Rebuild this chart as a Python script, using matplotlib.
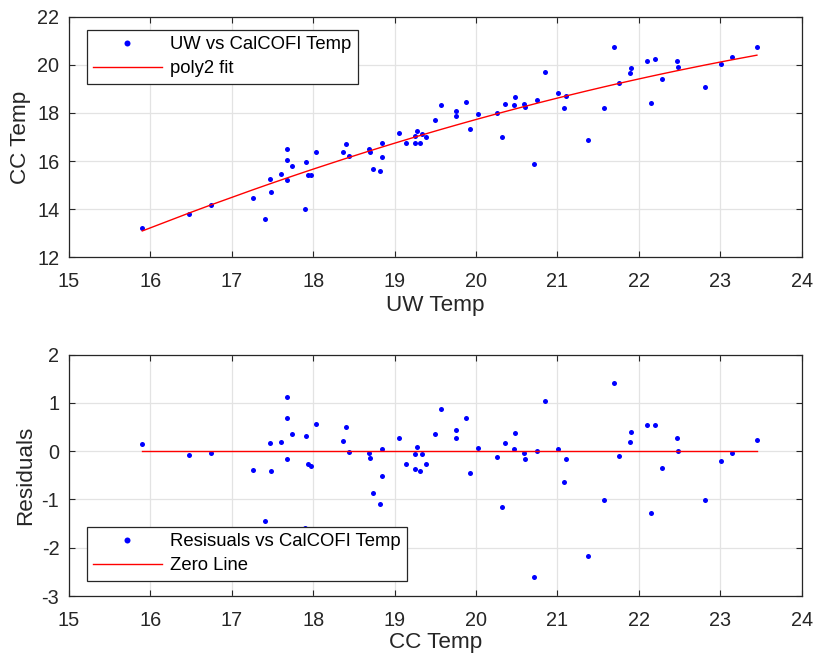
import numpy as np
import matplotlib
matplotlib.use("Agg")
import matplotlib.pyplot as plt

uw_temp = [15.90, 16.48, 16.75, 17.26, 17.41, 17.47, 17.48, 17.61, 17.68, 17.68,
           17.68, 17.74, 17.90, 17.91, 17.94, 17.97, 18.03, 18.37, 18.40, 18.44,
           18.69, 18.70, 18.73, 18.82, 18.84, 18.85, 19.05, 19.14, 19.25, 19.25,
           19.28, 19.31, 19.34, 19.38, 19.50, 19.57, 19.75, 19.75, 19.88, 19.93,
           20.02, 20.26, 20.32, 20.35, 20.48, 20.47, 20.59, 20.60, 20.71, 20.75,
           20.85, 21.01, 21.11, 21.08, 21.37, 21.57, 21.69, 21.76, 21.89, 21.90,
           22.10, 22.15, 22.20, 22.28, 22.47, 22.48, 22.81, 23.01, 23.14, 23.45]

cc_temp = [13.22, 13.79, 14.17, 14.46, 13.58, 15.27, 14.70, 15.47, 16.51, 16.05,
           15.20, 15.78, 14.02, 15.97, 15.40, 15.40, 16.36, 16.37, 16.70, 16.22,
           16.51, 16.38, 15.68, 15.57, 16.15, 16.74, 17.17, 16.73, 17.05, 16.74,
           17.24, 16.74, 17.14, 16.99, 17.72, 18.32, 18.07, 17.89, 18.44, 17.34,
           17.96, 17.98, 16.99, 18.37, 18.68, 18.34, 18.37, 18.23, 15.89, 18.56,
           19.70, 18.83, 18.69, 18.19, 16.88, 18.21, 20.75, 19.27, 19.68, 19.88,
           20.17, 18.40, 20.26, 19.41, 20.18, 19.90, 19.10, 20.04, 20.32, 20.76]

residuals = [0.14, -0.07, -0.03, -0.38, -1.44, 0.16, -0.42, 0.19, 1.12, 0.69,
             -0.17, 0.35, -1.59, 0.32, -0.27, -0.30, 0.57, 0.21, 0.50, -0.02,
             -0.03, -0.15, -0.87, -1.09, -0.52, 0.05, 0.27, -0.26, -0.06, -0.37,
             0.08, -0.42, -0.06, -0.26, 0.35, 0.87, 0.44, 0.27, 0.69, -0.45,
             0.06, -0.12, -1.16, 0.18, 0.37, 0.05, -0.03, -0.17, -2.61, 0.01,
             1.05, 0.05, -0.17, -0.63, -2.18, -1.02, 1.41, -0.10, 0.20, 0.39,
             0.54, -1.27, 0.55, -0.35, 0.28, 0.01, -1.02, -0.21, -0.03, 0.23]

x = np.array(uw_temp)
y = np.array(cc_temp)
r = np.array(residuals)
coef = np.polyfit(x, y, 2)
xs = np.sort(x)
fit = np.polyval(coef, xs)

plt.rcParams['font.family'] = ['Liberation Sans', 'DejaVu Sans']
plt.rcParams['axes.unicode_minus'] = False
DARK = '#262626'
GRID = '#e3e3e3'
BLUE = '#0000ff'
RED = '#ff0000'
TICK_FS = 14.3
LABEL_FS = 16.2
LEG_FS = 13.3

fig = plt.figure(figsize=(8.16, 6.56), dpi=100)
W, H = 816, 656

def make_ax(left, top, right, bottom):
    return fig.add_axes([left / W, 1 - bottom / H, (right - left) / W, (bottom - top) / H])

ax1 = make_ax(69, 17, 801.7, 257)
ax2 = make_ax(69, 354.7, 801.7, 596)

def style(ax):
    ax.set_xlim(15, 24)
    ax.set_xticks(range(15, 25))
    ax.grid(True, color=GRID, linewidth=0.9)
    ax.set_axisbelow(True)
    for s in ax.spines.values():
        s.set_color(DARK)
        s.set_linewidth(0.9)
    ax.tick_params(direction='in', top=True, right=True, length=4, width=0.8,
                   colors=DARK, labelsize=TICK_FS)
    ax.tick_params(axis='x', pad=10.5)
    ax.tick_params(axis='y', pad=7)

def legend(ax, **kw):
    leg = ax.legend(fontsize=LEG_FS, frameon=True, fancybox=False, framealpha=1,
                    edgecolor=DARK, handlelength=3.7, handletextpad=0.45,
                    borderpad=0.35, labelspacing=0.38, borderaxespad=0,
                    markerscale=1.2, **kw)
    leg.get_frame().set_linewidth(0.9)
    return leg

style(ax1)
ax1.set_ylim(12, 22)
ax1.set_yticks(range(12, 23, 2))
ax1.plot(x, y, linestyle='none', marker='o', markersize=3.6, color=BLUE,
         markeredgewidth=0, label='UW vs CalCOFI Temp')
ax1.plot(xs, fit, color=RED, linewidth=1.0, label='poly2 fit')
ax1.set_xlabel('UW Temp', fontsize=LABEL_FS, color=DARK, labelpad=3)
ax1.set_ylabel('CC Temp', fontsize=LABEL_FS, color=DARK, labelpad=4)
legend(ax1, loc='upper left', bbox_to_anchor=(17.7 / 732.7, 1 - 13 / 240))

style(ax2)
ax2.set_ylim(-3, 2)
ax2.set_yticks(range(-3, 3))
ax2.plot(x, r, linestyle='none', marker='o', markersize=3.6, color=BLUE,
         markeredgewidth=0, label='Resisuals vs CalCOFI Temp')
ax2.plot(xs, np.zeros_like(xs), color=RED, linewidth=1.0, label='Zero Line')
ax2.set_xlabel('CC Temp', fontsize=LABEL_FS, color=DARK, labelpad=1.5)
ax2.set_ylabel('Residuals', fontsize=LABEL_FS, color=DARK, labelpad=4)
legend(ax2, loc='lower left', bbox_to_anchor=(17.7 / 732.7, 15.3 / 241.3))

fig.savefig('out.png', dpi=100)
